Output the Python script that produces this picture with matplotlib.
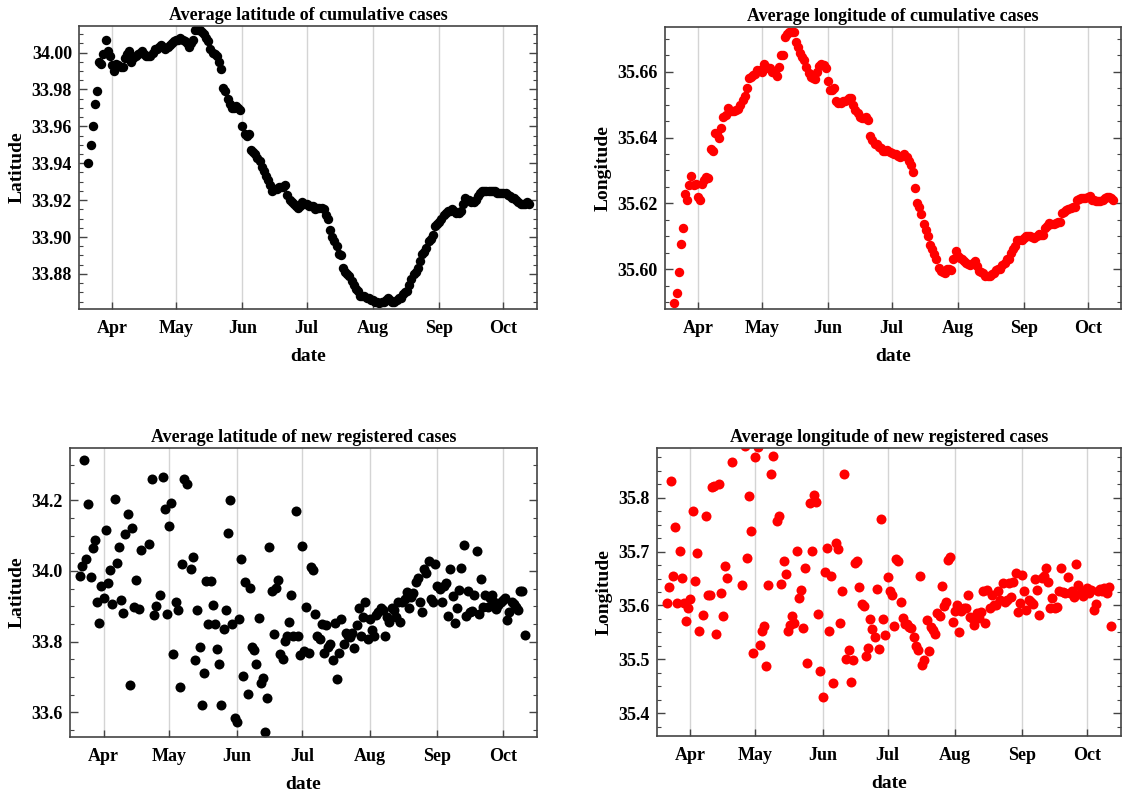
import pandas as pd
import numpy as np
import matplotlib
matplotlib.use('Agg')
import matplotlib.pyplot as plt
import matplotlib.dates as mdates
from matplotlib.ticker import MultipleLocator, FormatStrFormatter

plt.rcParams['font.family'] = ['Liberation Serif', 'DejaVu Serif']
plt.rcParams['font.weight'] = 'bold'

# --- cumulative cases, one value per day from 2020-03-21
cum_start = '2020-03-21'
cum_lat = [
    33.940, 33.950, 33.960, 33.972, 33.979, 33.995, 33.994, 33.999, 34.007, 34.001, 33.998,
    33.993, 33.990, 33.994, 33.993, 33.992, 33.992, 33.997, 33.999, 34.001, 33.995,
    33.997, 33.998, 33.999, 34.000, 34.001, 33.999, 33.998, 33.998, 33.998, 34.000,
    34.002, 34.002, 34.003, 34.004, 34.003, 34.002, 34.003, 34.004, 34.005, 34.006,
    34.007, 34.007, 34.008, 34.007, 34.006, 34.005, 34.003, 34.005, 34.007, 34.012,
    34.012, 34.012, 34.011, 34.010, 34.008, 34.006, 34.002, 34.000, 33.999, 33.998,
    33.995, 33.991, 33.981, 33.979, 33.975, 33.972, 33.970, 33.970, 33.971, 33.970, 33.969,
    33.960, 33.956, 33.955, 33.956, 33.947, 33.946, 33.945, 33.943, 33.941, 33.938,
    33.936, 33.933, 33.931, 33.928, 33.925, 33.926, 33.926, 33.927, 33.927, 33.927,
    33.928, 33.923, 33.920, 33.919, 33.918, 33.917, 33.916, 33.917, 33.919, 33.918,
    33.918, 33.917, 33.917, 33.917, 33.915, 33.916, 33.916, 33.916, 33.915, 33.912,
    33.910, 33.904, 33.900, 33.898, 33.895, 33.891, 33.890, 33.883, 33.881, 33.880,
    33.879, 33.876, 33.874, 33.872, 33.871, 33.868, 33.868, 33.868, 33.867, 33.867, 33.866,
    33.866, 33.865, 33.865, 33.864, 33.865, 33.865, 33.866, 33.867, 33.866, 33.865,
    33.865, 33.866, 33.867, 33.867, 33.869, 33.870, 33.871, 33.874, 33.877, 33.880,
    33.881, 33.883, 33.887, 33.891, 33.892, 33.894, 33.898, 33.899, 33.901, 33.906, 33.907,
    33.908, 33.910, 33.912, 33.913, 33.914, 33.914, 33.915, 33.914, 33.913, 33.913,
    33.914, 33.918, 33.921, 33.920, 33.920, 33.919, 33.919, 33.920, 33.922, 33.924,
    33.925, 33.925, 33.925, 33.925, 33.925, 33.925, 33.925, 33.924, 33.924, 33.924,
    33.924, 33.924, 33.923, 33.922, 33.921, 33.921, 33.920, 33.919, 33.918, 33.918,
    33.918, 33.919, 33.918,
]
cum_lon = [
    35.5896, 35.5928, 35.5992, 35.6077, 35.6125, 35.6230, 35.6210, 35.6256, 35.6284, 35.6257, 35.6260,
    35.6220, 35.6210, 35.6260, 35.6270, 35.6280, 35.6277, 35.6365, 35.6358, 35.6413, 35.6410,
    35.6400, 35.6430, 35.6464, 35.6469, 35.6490, 35.6480, 35.6480, 35.6480, 35.6483, 35.6486,
    35.6500, 35.6515, 35.6526, 35.6550, 35.6580, 35.6583, 35.6590, 35.6593, 35.6605, 35.6605,
    35.6600, 35.6625, 35.6615, 35.6610, 35.6610, 35.6600, 35.6595, 35.6587, 35.6615, 35.6650,
    35.6650, 35.6706, 35.6716, 35.6720, 35.6720, 35.6720, 35.6690, 35.6676, 35.6656, 35.6645,
    35.6637, 35.6615, 35.6595, 35.6585, 35.6580, 35.6577, 35.6600, 35.6617, 35.6625, 35.6620, 35.6610,
    35.6572, 35.6544, 35.6545, 35.6550, 35.6511, 35.6506, 35.6506, 35.6510, 35.6510, 35.6514,
    35.6520, 35.6520, 35.6500, 35.6484, 35.6476, 35.6464, 35.6460, 35.6460, 35.6464, 35.6454,
    35.6406, 35.6393, 35.6380, 35.6380, 35.6370, 35.6368, 35.6360, 35.6358, 35.6363, 35.6355,
    35.6352, 35.6350, 35.6350, 35.6345, 35.6340, 35.6345, 35.6350, 35.6342, 35.6330, 35.6317,
    35.6296, 35.6246, 35.6200, 35.6190, 35.6169, 35.6136, 35.6120, 35.6100, 35.6072, 35.6060,
    35.6045, 35.6030, 35.6004, 35.5994, 35.5990, 35.5987, 35.6000, 35.6000, 35.5999, 35.6030, 35.6055,
    35.6040, 35.6035, 35.6030, 35.6025, 35.6019, 35.6017, 35.6014, 35.6020, 35.6024, 35.6010,
    35.5994, 35.5990, 35.5987, 35.5980, 35.5980, 35.5980, 35.5985, 35.5989, 35.5997, 35.6000,
    35.6000, 35.6014, 35.6020, 35.6030, 35.6030, 35.6050, 35.6060, 35.6070, 35.6088, 35.6090, 35.6090,
    35.6095, 35.6100, 35.6100, 35.6100, 35.6098, 35.6095, 35.6100, 35.6108, 35.6105, 35.6105,
    35.6125, 35.6130, 35.6140, 35.6138, 35.6138, 35.6140, 35.6142, 35.6142, 35.6170, 35.6175,
    35.6180, 35.6183, 35.6185, 35.6188, 35.6190, 35.6210, 35.6213, 35.6216, 35.6216, 35.6216,
    35.6220, 35.6223, 35.6210, 35.6210, 35.6206, 35.6206, 35.6206, 35.6210, 35.6215, 35.6220,
    35.6220, 35.6216, 35.6210,
]

# --- new registered cases
new_lat_dates = [
    '03-21', '03-22', '03-23', '03-24', '03-25', '03-26', '03-27', '03-28', '03-29', '03-30', '03-31',
    '04-01', '04-02', '04-03', '04-04', '04-05', '04-06', '04-07', '04-08', '04-09', '04-10',
    '04-11', '04-12', '04-13', '04-14', '04-15', '04-16', '04-17', '04-18', '04-22', '04-23',
    '04-24', '04-25', '04-27', '04-28', '04-29', '04-30',
    '05-01', '05-02', '05-03', '05-04', '05-05', '05-06', '05-07', '05-08', '05-09', '05-11',
    '05-12', '05-13', '05-14', '05-15', '05-16', '05-17', '05-18', '05-19', '05-20', '05-21',
    '05-22', '05-23', '05-24', '05-25', '05-26', '05-27', '05-28', '05-29', '05-30', '05-31',
    '06-01', '06-02', '06-03', '06-04', '06-05', '06-06', '06-07', '06-08', '06-09', '06-10',
    '06-11', '06-12', '06-13', '06-14', '06-15', '06-16', '06-17', '06-18', '06-19', '06-20',
    '06-21', '06-22', '06-23', '06-24', '06-25', '06-26', '06-27', '06-28', '06-29', '06-30',
    '07-01', '07-02', '07-03', '07-04', '07-05', '07-06', '07-07', '07-08', '07-09', '07-10',
    '07-11', '07-12', '07-13', '07-14', '07-15', '07-16', '07-17', '07-18', '07-19', '07-20',
    '07-21', '07-22', '07-23', '07-24', '07-25', '07-26', '07-27', '07-28', '07-29', '07-30', '07-31',
    '08-01', '08-02', '08-03', '08-04', '08-05', '08-06', '08-07', '08-08', '08-09', '08-10',
    '08-11', '08-12', '08-13', '08-14', '08-15', '08-16', '08-17', '08-18', '08-19', '08-20',
    '08-21', '08-22', '08-23', '08-24', '08-25', '08-26', '08-27', '08-28', '08-29', '08-30', '08-31',
    '09-01', '09-02', '09-03', '09-04', '09-05', '09-06', '09-07', '09-08', '09-09', '09-10',
    '09-11', '09-12', '09-13', '09-14', '09-15', '09-16', '09-17', '09-18', '09-19', '09-20',
    '09-21', '09-22', '09-23', '09-24', '09-25', '09-26', '09-27', '09-28', '09-29', '09-30',
    '10-01', '10-02', '10-03', '10-04', '10-05', '10-06', '10-07', '10-08', '10-09', '10-10', '10-11',
]
new_lat = [
    33.986, 34.015, 34.315, 34.034, 34.189, 33.983, 34.064, 34.088, 33.913, 33.852, 33.957,
    33.924, 34.116, 33.967, 34.003, 33.906, 34.204, 34.022, 34.068, 33.918, 33.882,
    34.104, 34.162, 33.677, 34.122, 33.899, 33.974, 33.892, 34.060, 34.077, 34.260,
    33.875, 33.901, 33.932, 34.267, 34.176, 33.877,
    34.128, 34.193, 33.765, 33.913, 33.889, 33.672, 34.020, 34.261, 34.247, 34.005,
    34.040, 33.748, 33.889, 33.785, 33.620, 33.710, 33.972, 33.850, 33.972, 33.904,
    33.850, 33.779, 33.738, 33.620, 33.836, 33.889, 34.107, 34.201, 33.850, 33.584,
    33.573, 33.864, 34.034, 33.703, 33.970, 33.653, 33.951, 33.785, 33.776, 33.738,
    33.866, 33.684, 33.698, 33.543, 33.639, 34.069, 33.943, 33.821, 33.953, 33.974,
    33.765, 33.751, 33.802, 33.817, 33.856, 33.932, 33.817, 34.170, 33.817, 33.762,
    34.072, 33.773, 33.897, 33.767, 34.012, 34.003, 33.877, 33.817, 33.807, 33.849,
    33.767, 33.847, 33.785, 33.792, 33.748, 33.852, 33.694, 33.769, 33.864, 33.792,
    33.823, 33.817, 33.814, 33.823, 33.783, 33.847, 33.896, 33.817, 33.871, 33.911, 33.807,
    33.864, 33.833, 33.817, 33.875, 33.885, 33.894, 33.890, 33.817, 33.871, 33.856,
    33.894, 33.889, 33.871, 33.913, 33.856, 33.913, 33.921, 33.940, 33.894, 33.927,
    33.937, 33.970, 33.981, 33.911, 33.885, 34.006, 33.993, 34.028, 33.921, 33.913, 34.019,
    33.958, 33.949, 33.913, 33.958, 33.965, 33.873, 34.006, 33.930, 33.852, 33.896,
    33.946, 34.008, 34.074, 33.873, 33.944, 33.883, 33.888, 33.932, 34.057, 33.877,
    33.977, 33.899, 33.932, 33.899, 33.923, 33.932, 33.913, 33.892, 33.904, 33.913,
    33.918, 33.924, 33.861, 33.883, 33.913, 33.906, 33.899, 33.889, 33.943, 33.943, 33.819,
]

new_lon_dates = [
    '03-21', '03-22', '03-23', '03-24', '03-25', '03-26', '03-27', '03-28', '03-29', '03-30', '03-31',
    '04-01', '04-02', '04-03', '04-04', '04-05', '04-07', '04-08', '04-09', '04-10', '04-11',
    '04-12', '04-13', '04-14', '04-15', '04-16', '04-17', '04-18', '04-20', '04-25', '04-26',
    '04-27', '04-28', '04-29', '04-30',
    '05-01', '05-02', '05-03', '05-04', '05-05', '05-06', '05-07', '05-08', '05-09', '05-11',
    '05-12', '05-13', '05-14', '05-15', '05-16', '05-17', '05-18', '05-19', '05-20', '05-21',
    '05-22', '05-23', '05-24', '05-25', '05-26', '05-27', '05-28', '05-29', '05-30', '05-31',
    '06-01', '06-02', '06-03', '06-04', '06-05', '06-06', '06-07', '06-08', '06-09', '06-10',
    '06-11', '06-12', '06-13', '06-14', '06-15', '06-16', '06-17', '06-18', '06-19', '06-20',
    '06-21', '06-22', '06-23', '06-24', '06-25', '06-26', '06-27', '06-28', '06-29', '06-30',
    '07-01', '07-02', '07-03', '07-04', '07-05', '07-06', '07-07', '07-08', '07-09', '07-10',
    '07-11', '07-12', '07-13', '07-14', '07-15', '07-16', '07-17', '07-18', '07-19', '07-20',
    '07-21', '07-22', '07-23', '07-24', '07-25', '07-26', '07-27', '07-28', '07-29', '07-30', '07-31',
    '08-01', '08-02', '08-03', '08-04', '08-05', '08-06', '08-07', '08-08', '08-09', '08-10',
    '08-11', '08-12', '08-13', '08-14', '08-15', '08-16', '08-17', '08-18', '08-19', '08-20',
    '08-21', '08-22', '08-23', '08-24', '08-25', '08-26', '08-27', '08-28', '08-29', '08-30', '08-31',
    '09-01', '09-02', '09-03', '09-04', '09-05', '09-06', '09-07', '09-08', '09-09', '09-10',
    '09-11', '09-12', '09-13', '09-14', '09-15', '09-16', '09-17', '09-18', '09-19', '09-20',
    '09-21', '09-22', '09-23', '09-24', '09-25', '09-26', '09-27', '09-28', '09-29', '09-30',
    '10-01', '10-02', '10-03', '10-04', '10-05', '10-06', '10-07', '10-08', '10-09', '10-10',
    '10-11', '10-12',
]
new_lon = [
    35.604, 35.634, 35.831, 35.655, 35.746, 35.604, 35.701, 35.651, 35.604, 35.572, 35.595,
    35.612, 35.776, 35.646, 35.697, 35.553, 35.583, 35.766, 35.619, 35.620, 35.819,
    35.821, 35.547, 35.825, 35.624, 35.581, 35.674, 35.651, 35.866, 35.638, 35.895,
    35.688, 35.803, 35.738, 35.512,
    35.875, 35.893, 35.527, 35.552, 35.562, 35.487, 35.638, 35.844, 35.877, 35.757,
    35.765, 35.640, 35.682, 35.658, 35.552, 35.563, 35.581, 35.567, 35.701, 35.614,
    35.629, 35.558, 35.669, 35.493, 35.790, 35.701, 35.805, 35.791, 35.584, 35.479,
    35.430, 35.663, 35.707, 35.553, 35.655, 35.457, 35.716, 35.704, 35.568, 35.627,
    35.844, 35.501, 35.518, 35.458, 35.498, 35.678, 35.682, 35.634, 35.603, 35.599,
    35.507, 35.521, 35.575, 35.556, 35.541, 35.630, 35.519, 35.760, 35.575, 35.546,
    35.652, 35.626, 35.620, 35.562, 35.687, 35.683, 35.607, 35.577, 35.565, 35.565,
    35.561, 35.559, 35.541, 35.524, 35.518, 35.655, 35.490, 35.499, 35.573, 35.515,
    35.561, 35.555, 35.547, 35.586, 35.580, 35.636, 35.599, 35.606, 35.685, 35.689, 35.570,
    35.590, 35.601, 35.551, 35.589, 35.595, 35.596, 35.620, 35.578, 35.577, 35.564,
    35.586, 35.577, 35.587, 35.626, 35.567, 35.628, 35.595, 35.620, 35.600, 35.601,
    35.626, 35.611, 35.641, 35.607, 35.611, 35.641, 35.615, 35.643, 35.660, 35.587, 35.604,
    35.657, 35.626, 35.592, 35.611, 35.607, 35.603, 35.649, 35.629, 35.583, 35.651,
    35.654, 35.669, 35.644, 35.595, 35.614, 35.595, 35.598, 35.626, 35.669, 35.625,
    35.623, 35.653, 35.623, 35.626, 35.615, 35.677, 35.638, 35.625, 35.617, 35.623,
    35.633, 35.623, 35.629, 35.592, 35.603, 35.626, 35.631, 35.627, 35.632, 35.623,
    35.635, 35.562,
]

cum_dates = pd.date_range(cum_start, periods=len(cum_lat), freq='D')
lat_dates = pd.to_datetime(['2020-' + d for d in new_lat_dates])
lon_dates = pd.to_datetime(['2020-' + d for d in new_lon_dates])

fig = plt.figure(figsize=(11.23, 7.94), dpi=100)
W, H = 1123, 794

def px_axes(l, t, r, b):
    return fig.add_axes([l / W, 1 - b / H, (r - l) / W, (b - t) / H])

frame_col = '#444444'
xmin = pd.Timestamp('2020-03-16 14:00')
xmax = pd.Timestamp('2020-10-16 16:00')

def style(ax, title, ylab, ylim, major, minor, fmt):
    ax.set_xlim(xmin, xmax)
    ax.set_ylim(*ylim)
    ax.set_title(title, fontsize=13, fontweight='bold', pad=4)
    ax.set_ylabel(ylab, fontsize=14, fontweight='bold', labelpad=4)
    ax.set_xlabel('date', fontsize=14, fontweight='bold', labelpad=8)
    ax.xaxis.set_major_locator(mdates.MonthLocator())
    ax.xaxis.set_major_formatter(mdates.DateFormatter('%b'))
    ax.yaxis.set_major_locator(MultipleLocator(major))
    ax.yaxis.set_minor_locator(MultipleLocator(minor))
    ax.yaxis.set_major_formatter(FormatStrFormatter(fmt))
    ax.tick_params(axis='y', which='both', direction='in', left=True, right=True,
                   color=frame_col, labelsize=13, pad=5)
    ax.tick_params(axis='y', which='major', length=6, width=1)
    ax.tick_params(axis='y', which='minor', length=3, width=0.8)
    ax.tick_params(axis='x', which='both', direction='in', top=False, bottom=True,
                   length=5, width=1, color=frame_col, labelsize=13, pad=8)
    for lab in ax.get_xticklabels() + ax.get_yticklabels():
        lab.set_fontweight('bold')
    ax.grid(axis='x', color='#d4d4d4', lw=1.0)
    ax.set_axisbelow(True)
    for s in ax.spines.values():
        s.set_color(frame_col)
        s.set_linewidth(1.2)

ax1 = px_axes(79, 26, 537, 309)
ax1.plot(cum_dates, cum_lat, 'o', color='black', ms=6.8, mew=0)
style(ax1, 'Average latitude of cumulative cases', 'Latitude',
      (33.861, 34.0144), 0.02, 0.005, '%.2f')

ax2 = px_axes(665, 27, 1121, 309)
ax2.plot(cum_dates, cum_lon, 'o', color='#ff0000', ms=6.8, mew=0)
style(ax2, 'Average longitude of cumulative cases', 'Longitude',
      (35.5879, 35.6736), 0.02, 0.005, '%.2f')

ax3 = px_axes(70, 448, 537, 737)
ax3.plot(lat_dates, new_lat, 'o', color='black', ms=7.2, mew=0)
style(ax3, 'Average latitude of new registered cases', 'Latitude',
      (33.530, 34.348), 0.2, 0.05, '%.1f')

ax4 = px_axes(657, 448, 1121, 736)
ax4.plot(lon_dates, new_lon, 'o', color='#ff0000', ms=7.2, mew=0)
style(ax4, 'Average longitude of new registered cases', 'Longitude',
      (35.358, 35.892), 0.1, 0.025, '%.1f')

fig.savefig('out.png', dpi=100)
